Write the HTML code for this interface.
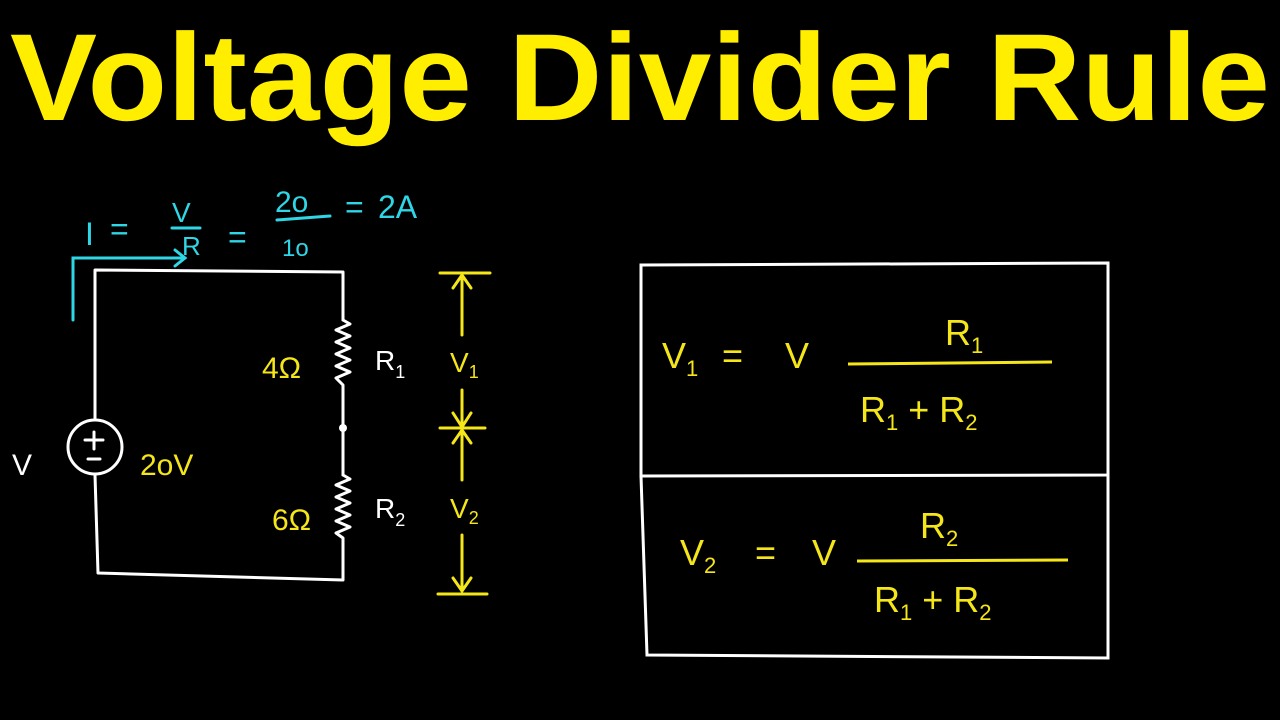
<!DOCTYPE html>
<html><head><meta charset="utf-8"><style>
html,body{margin:0;padding:0;background:#000;}
svg{display:block}
text{font-family:"Liberation Sans",sans-serif;}
</style></head><body>
<svg width="1280" height="720" viewBox="0 0 1280 720" xmlns="http://www.w3.org/2000/svg">
<rect width="1280" height="720" fill="#000"/>
<text x="10" y="120" font-size="124" font-weight="bold" fill="#ffee00" textLength="1260" lengthAdjust="spacingAndGlyphs">Voltage Divider Rule</text>

<g stroke="#fff" stroke-width="3" fill="none" stroke-linecap="round" stroke-linejoin="round">
<path d="M95 420 L95 270 L343 272 L343 320"/>
<path d="M343 320 L350 324 L336 330 L350 336 L336 342 L350 348 L336 354 L350 360 L336 366 L350 372 L336 378 L343 385 L343 475"/>
<path d="M343 475 L350 479 L336 485 L350 491 L336 497 L350 503 L336 509 L350 515 L336 521 L350 527 L336 533 L343 538 L343 580 L98 573 L95 475"/>
<circle cx="95" cy="447" r="27"/>
<path d="M85 440 L103 440 M94 432 L94 449 M88 459 L100 459"/>
</g>
<circle cx="343" cy="428" r="4" fill="#fff"/>
<text x="12" y="475" font-size="30" fill="#fff">V</text>
<g fill="#f5e61a" font-size="30">
<text x="140" y="475">2oV</text>
<text x="262" y="378">4Ω</text>
<text x="272" y="530">6Ω</text>
</g>
<g fill="#fff" font-size="28">
<text x="375" y="370">R<tspan font-size="18" dy="8">1</tspan></text>
<text x="375" y="518">R<tspan font-size="18" dy="8">2</tspan></text>
</g>

<g stroke="#2fd6e6" stroke-width="3" fill="none" stroke-linecap="round">
<path d="M73 320 L73 258 L185 258 M175 250 L185 258 L175 266"/>
<path d="M172 228 L200 228 M277 220 L330 216"/>
</g>
<g fill="#2fd6e6" font-size="32">
<text x="85" y="245">I</text>
<text x="110" y="240">=</text>
<text x="172" y="222" font-size="28">V</text>
<text x="182" y="255" font-size="26">R</text>
<text x="228" y="248">=</text>
<text x="275" y="212" font-size="30">2o</text>
<text x="282" y="256" font-size="24">1o</text>
<text x="345" y="218">=</text>
<text x="378" y="218">2A</text>
</g>

<g stroke="#f5e61a" stroke-width="3" fill="none" stroke-linecap="round">
<path d="M440 273 L490 273 M462 273 L462 335 M453 288 L462 275 L471 288"/>
<path d="M462 390 L462 427 M453 413 L462 427 L471 413 M440 428 L485 428"/>
<path d="M462 430 L462 480 M453 443 L462 430 L471 443"/>
<path d="M462 535 L462 591 M453 578 L462 591 L471 578 M438 594 L487 594"/>
</g>
<g fill="#f5e61a" font-size="28">
<text x="450" y="372">V<tspan font-size="18" dy="6">1</tspan></text>
<text x="450" y="518">V<tspan font-size="18" dy="6">2</tspan></text>
</g>

<g stroke="#fff" stroke-width="3" fill="none">
<path d="M641 265 L1108 263 L1108 475 L641 476 Z"/>
<path d="M641 476 L647 655 L1108 658 L1108 475"/>
</g>
<g fill="#f5e61a" font-size="36">
<text x="662" y="368">V<tspan font-size="22" dy="8">1</tspan></text>
<text x="722" y="368">=</text>
<text x="785" y="368">V</text>
<text x="945" y="345">R<tspan font-size="22" dy="8">1</tspan></text>
<text x="860" y="422">R<tspan font-size="22" dy="8">1</tspan><tspan dy="-8">  +  R</tspan><tspan font-size="22" dy="8">2</tspan></text>
<text x="680" y="565">V<tspan font-size="22" dy="8">2</tspan></text>
<text x="755" y="565">=</text>
<text x="812" y="565">V</text>
<text x="920" y="538">R<tspan font-size="22" dy="8">2</tspan></text>
<text x="874" y="612">R<tspan font-size="22" dy="8">1</tspan><tspan dy="-8"> + R</tspan><tspan font-size="22" dy="8">2</tspan></text>
</g>
<g stroke="#f5e61a" stroke-width="3">
<path d="M848 364 L1052 362"/>
<path d="M857 561 L1068 560"/>
</g>
</svg>
</body></html>
